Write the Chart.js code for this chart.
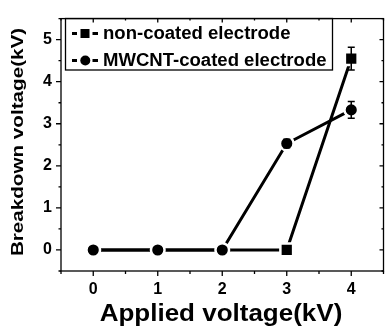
<!DOCTYPE html>
<html>
<head>
<meta charset="utf-8">
<script src="https://cdn.jsdelivr.net/npm/chart.js@4/dist/chart.umd.min.js"></script>
<style>
html, body { margin: 0; padding: 0; background: #fff; overflow: hidden; }
#wrap { width: 385px; height: 327px; overflow: hidden; }
#wrap canvas { display: block; }
</style>
</head>
<body>
<div id="wrap"><canvas id="myChart" width="395" height="327"></canvas></div>
<script>
var appliedVoltage = [0, 1, 2, 3, 4];
var nonCoated = [0, 0, 0, 0, 4.55];
var nonCoatedErr = [0, 0, 0, 0, 0.27];
var mwcnt = [0, 0, 0, 2.53, 3.33];
var mwcntErr = [0, 0, 0, 0.1, 0.2];
var xTickLabels = [0, 1, 2, 3, 4];
var yTickLabels = [0, 1, 2, 3, 4, 5];
var seriesNames = ["non-coated electrode", "MWCNT-coated electrode"];
var xTitle = "Applied voltage(kV)";
var yTitle = "Breakdown voltage(kV)";

var FONT = "'Liberation Sans', Arial, sans-serif";

function toPoints(ys) {
    var pts = [];
    for (var i = 0; i < appliedVoltage.length; i++) {
        pts.push({x: appliedVoltage[i], y: ys[i]});
    }
    return pts;
}

function stretchText(ctx, text, x, y, sx) {
    ctx.save();
    ctx.translate(x, y);
    ctx.scale(sx, 1);
    ctx.fillText(text, 0, 0);
    ctx.restore();
}

// origin style frame, ticks, error bars, legend and titles
var originPlugin = {
    id: 'origin',
    afterDatasetsDraw: function (chart) {
        var ctx = chart.ctx;
        var xs = chart.scales.x, ys = chart.scales.y;
        var sets = [[nonCoated, nonCoatedErr], [mwcnt, mwcntErr]];
        ctx.save();
        ctx.strokeStyle = "#000";
        ctx.lineWidth = 1.5;
        sets.forEach(function (s) {
            for (var i = 0; i < appliedVoltage.length; i++) {
                var e = s[1][i];
                if (!e) continue;
                var px = xs.getPixelForValue(appliedVoltage[i]);
                var top = ys.getPixelForValue(s[0][i] + e);
                var bot = ys.getPixelForValue(s[0][i] - e);
                ctx.beginPath();
                ctx.moveTo(px, top); ctx.lineTo(px, bot);
                ctx.moveTo(px - 3.5, top); ctx.lineTo(px + 3.5, top);
                ctx.moveTo(px - 3.5, bot); ctx.lineTo(px + 3.5, bot);
                ctx.stroke();
            }
        });
        ctx.restore();
    },
    afterDraw: function (chart) {
        var ctx = chart.ctx;
        var a = chart.chartArea;
        var xs = chart.scales.x, ys = chart.scales.y;
        ctx.save();
        ctx.strokeStyle = "#000";
        ctx.lineWidth = 1.3;
        ctx.strokeRect(a.left, a.top, a.right - a.left, a.bottom - a.top);

        ctx.beginPath();
        xs.ticks.forEach(function (t) {
            var major = xTickLabels.indexOf(t.value) >= 0;
            var px = xs.getPixelForValue(t.value);
            ctx.moveTo(px, a.bottom); ctx.lineTo(px, a.bottom + (major ? 5 : 3));
            ctx.moveTo(px, a.top); ctx.lineTo(px, a.top + (major ? 4 : 2));
        });
        ys.ticks.forEach(function (t) {
            var major = yTickLabels.indexOf(t.value) >= 0;
            var py = ys.getPixelForValue(t.value);
            ctx.moveTo(a.left, py); ctx.lineTo(a.left - (major ? 5 : 2.5), py);
            ctx.moveTo(a.right, py); ctx.lineTo(a.right - (major ? 4 : 2), py);
        });
        ctx.stroke();

        // legend
        ctx.lineWidth = 1.3;
        ctx.strokeRect(65.5, 18.5, 267, 51.5);
        var rows = [33.5, 60.5];
        ctx.font = "bold 18px " + FONT;
        ctx.fillStyle = "#000";
        ctx.textBaseline = "alphabetic";
        for (var r = 0; r < 2; r++) {
            var cy = rows[r];
            ctx.lineWidth = 3;
            ctx.beginPath();
            ctx.moveTo(72, cy); ctx.lineTo(77, cy);
            ctx.moveTo(92.5, cy); ctx.lineTo(98, cy);
            ctx.stroke();
            ctx.beginPath();
            if (r === 0) {
                ctx.rect(80.5, cy - 4.5, 9, 9);
            } else {
                ctx.arc(85.3, cy, 5, 0, Math.PI * 2);
            }
            ctx.fill();
            stretchText(ctx, seriesNames[r], 103, cy + 5, 1.03);
        }

        // axis titles
        ctx.font = "bold 23px " + FONT;
        ctx.textAlign = "center";
        stretchText(ctx, xTitle, 221, 321, 1.13);
        ctx.save();
        ctx.translate(23, 142);
        ctx.rotate(-Math.PI / 2);
        ctx.font = "bold 16px " + FONT;
        stretchText(ctx, yTitle, 0, 0, 1.29);
        ctx.restore();
        ctx.restore();
    }
};

var ctx = document.getElementById('myChart').getContext('2d');
var myChart = new Chart(ctx, {
    type: 'line',
    data: {
        datasets: [{
            label: seriesNames[1],
            data: toPoints(mwcnt),
            order: 0,
            borderColor: "#000",
            backgroundColor: "#000",
            borderWidth: 3,
            pointStyle: 'circle',
            pointRadius: 6.8,
            pointBackgroundColor: "#000",
            pointBorderColor: "#fff",
            pointBorderWidth: 2.5
        }, {
            label: seriesNames[0],
            data: toPoints(nonCoated),
            order: 1,
            borderColor: "#000",
            backgroundColor: "#000",
            borderWidth: 3,
            pointStyle: 'rect',
            pointRadius: 9,
            pointBackgroundColor: "#000",
            pointBorderColor: "#fff",
            pointBorderWidth: 2.5
        }]
    },
    options: {
        responsive: false,
        animation: false,
        devicePixelRatio: 1,
        events: [],
        layout: {padding: {top: 13, right: 7, left: 0, bottom: 0}},
        plugins: {legend: {display: false}, tooltip: {enabled: false}},
        scales: {
            x: {
                type: 'linear',
                min: -0.5,
                max: 4.5,
                grid: {display: false, drawTicks: false},
                border: {display: false},
                afterFit: function (scale) { scale.height = 56; },
                ticks: {
                    stepSize: 0.5,
                    autoSkip: false,
                    maxRotation: 0,
                    padding: 9,
                    color: "#000",
                    font: {family: FONT, size: 16, weight: 'bold'},
                    callback: function (v) { return xTickLabels.indexOf(v) >= 0 ? String(v) : ''; }
                }
            },
            y: {
                min: -0.5,
                max: 5.5,
                grid: {display: false, drawTicks: false},
                border: {display: false},
                afterFit: function (scale) { scale.width = 61; },
                ticks: {
                    stepSize: 0.5,
                    autoSkip: false,
                    padding: 9,
                    color: "#000",
                    font: {family: FONT, size: 16, weight: 'bold'},
                    callback: function (v) { return yTickLabels.indexOf(v) >= 0 ? String(v) : ''; }
                }
            }
        }
    },
    plugins: [originPlugin]
});
</script>
</body>
</html>
